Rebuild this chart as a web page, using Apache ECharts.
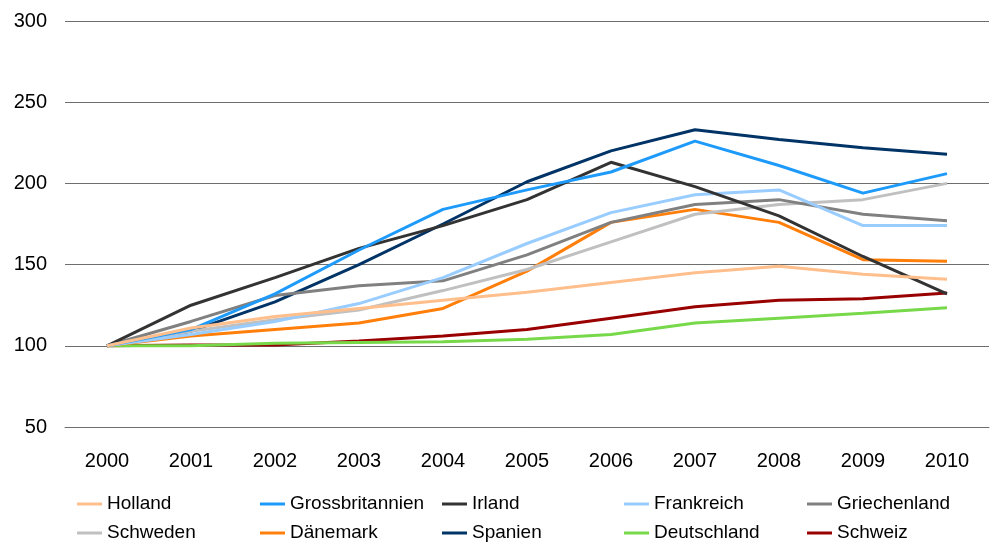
<!DOCTYPE html>
<html>
<head>
<meta charset="utf-8">
<script src="https://cdn.jsdelivr.net/npm/echarts@6/dist/echarts.min.js"></script>
<style>
  html, body { margin: 0; padding: 0; background: #fff; }
  #main { width: 992px; height: 542px; }
</style>
</head>
<body>
<div id="main"></div>
<script>
var years = ['2000', '2001', '2002', '2003', '2004', '2005', '2006', '2007', '2008', '2009', '2010'];

var holland         = [100, 111, 118, 123, 128, 133, 139, 145, 149, 144, 141];
var grossbritannien = [100, 110, 132, 159, 184, 196, 207, 226, 211, 194, 206];
var irland          = [100, 125, 142, 160, 174, 190, 213, 198, 180, 155, 132];
var frankreich      = [100, 107, 115, 126, 142, 163, 182, 193, 196, 174, 174];
var griechenland    = [100, 115, 131, 137, 140, 156, 176, 187, 190, 181, 177];
var schweden        = [100, 109, 116, 122, 134, 147, 164, 181, 187, 190, 200];
var daenemark       = [100, 106, 110, 114, 123, 146, 176, 184, 176, 153, 152];
var spanien         = [100, 109, 127, 150, 175, 201, 220, 233, 227, 222, 218];
var deutschland     = [100, 100, 101.5, 102, 102.5, 104, 107, 114, 117, 120, 123.5];
var schweiz         = [100, 100.5, 100.5, 103, 106, 110, 117, 124, 128, 129, 132.5];

var names  = ['Holland', 'Grossbritannien', 'Irland', 'Frankreich', 'Griechenland',
              'Schweden', 'Dänemark', 'Spanien', 'Deutschland', 'Schweiz'];
var values = [holland, grossbritannien, irland, frankreich, griechenland,
              schweden, daenemark, spanien, deutschland, schweiz];
var colors = ['#FFBF8C', '#1E9BFA', '#333333', '#99CCFF', '#808080',
              '#C0C0C0', '#FF7F0A', '#003366', '#77D94A', '#990000'];

var font = 'Liberation Sans, Arial, sans-serif';

var myChart = echarts.init(document.getElementById('main'));

var series = names.map(function (n, i) {
  return {
    name: n,
    type: 'line',
    data: values[i],
    symbol: 'none',
    lineStyle: { width: 3, color: colors[i] },
    itemStyle: { color: colors[i] },
    z: 10 - i
  };
});

// legend: 5 columns, 2 rows
var colX = [77, 260, 442, 624, 807];
var legends = colX.map(function (x, c) {
  return {
    orient: 'vertical',
    left: x,
    top: 494,
    height: 60,
    padding: 0,
    icon: 'rect',
    itemWidth: 25,
    itemHeight: 3,
    itemGap: 9,
    data: [names[c], names[c + 5]],
    textStyle: { fontFamily: font, fontSize: 19, color: '#000', lineHeight: 20 }
  };
});

var option = {
  animation: false,
  backgroundColor: '#fff',
  grid: { left: 65, right: 3, top: 21, bottom: 115 },
  legend: legends,
  xAxis: {
    type: 'category',
    data: years,
    boundaryGap: true,
    axisLine: { show: true, lineStyle: { color: '#6e6e6e', width: 1 } },
    axisTick: { show: false },
    axisLabel: { margin: 24, fontFamily: font, fontSize: 20, color: '#000' }
  },
  yAxis: {
    type: 'value',
    min: 50,
    max: 300,
    interval: 50,
    axisLine: { show: false },
    axisTick: { show: false },
    axisLabel: { margin: 18, fontFamily: font, fontSize: 20, color: '#000' },
    splitLine: { lineStyle: { color: '#6e6e6e', width: 1 } }
  },
  series: series
};

myChart.setOption(option);
</script>
</body>
</html>
